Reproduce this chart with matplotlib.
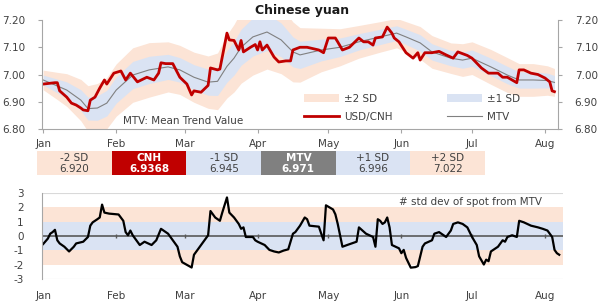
import numpy as np
import matplotlib.pyplot as plt

plt.rcParams['font.family'] = ['DejaVu Sans']
plt.rcParams['axes.unicode_minus'] = False

# month starts (day of year, 2020)
month_days = [0, 31, 60, 91, 121, 152, 182, 213]
month_names = ['Jan', 'Feb', 'Mar', 'Apr', 'May', 'Jun', 'Jul', 'Aug']

# USD/CNH spot
spot_day = [0, 5, 6, 7, 10, 12, 14, 16, 17, 19,
            20, 22, 24, 26, 27, 30, 33, 35, 37, 40,
            44, 47, 49, 50, 52, 55, 58, 61, 63, 64,
            67, 70, 71, 74, 75, 76, 78, 79, 81, 83,
            84, 85, 88, 90, 91, 92, 93, 95, 98, 100,
            103, 105, 106, 109, 112, 117, 119, 121, 124, 125,
            127, 130, 134, 136, 138, 140, 141, 144, 146, 148,
            149, 151, 154, 157, 159, 160, 162, 165, 168, 171,
            174, 176, 180, 182, 186, 189, 193, 195, 197, 201,
            202, 204, 207, 210, 213, 215, 216, 217]
spot = [6.965, 6.97, 6.97, 6.94, 6.917, 6.895, 6.888, 6.877, 6.87, 6.867,
        6.906, 6.917, 6.95, 6.98, 6.965, 7.005, 7.013, 6.98, 7.005, 6.973,
        6.99, 6.98, 7.005, 7.043, 7.04, 7.04, 6.99, 6.965, 6.925, 6.94,
        6.935, 6.96, 7.024, 7.017, 7.02, 7.064, 7.152, 7.127, 7.125, 7.09,
        7.125, 7.083, 7.10, 7.11, 7.09, 7.12, 7.09, 7.108, 7.064, 7.046,
        7.05, 7.05, 7.09, 7.10, 7.10, 7.09, 7.08, 7.134, 7.134, 7.12,
        7.09, 7.10, 7.134, 7.12, 7.12, 7.108, 7.134, 7.138, 7.174, 7.152,
        7.134, 7.12, 7.08, 7.06, 7.08, 7.053, 7.08, 7.08, 7.085, 7.072,
        7.06, 7.083, 7.07, 7.06, 7.024, 7.005, 7.005, 6.99, 6.99, 6.97,
        7.017, 7.017, 7.005, 7.0, 6.987, 6.973, 6.94, 6.937]

# mean trend value and one standard deviation
mtv_day = [0, 6, 10, 16, 19, 23, 27, 31, 38, 45,
           53, 58, 64, 70, 74, 78, 81, 84, 89, 95,
           101, 106, 109, 118, 126, 134, 143, 150, 154, 160,
           165, 173, 178, 182, 190, 197, 202, 208, 214, 217]
mtv = [6.98, 6.958, 6.943, 6.906, 6.875, 6.877, 6.895, 6.943, 6.998, 7.017,
       7.028, 7.017, 6.99, 6.972, 6.975, 7.03, 7.06, 7.10, 7.138, 7.156,
       7.127, 7.083, 7.072, 7.09, 7.10, 7.12, 7.138, 7.152, 7.138, 7.116,
       7.083, 7.06, 7.053, 7.06, 7.028, 6.998, 6.98, 6.98, 6.978, 6.971]
sd = [0.018, 0.025, 0.03, 0.038, 0.042, 0.045, 0.047, 0.048, 0.05, 0.05,
      0.046, 0.045, 0.046, 0.048, 0.052, 0.058, 0.062, 0.066, 0.07, 0.068,
      0.062, 0.055, 0.05, 0.04, 0.034, 0.03, 0.028, 0.027, 0.028, 0.03,
      0.03, 0.028, 0.03, 0.03, 0.032, 0.032, 0.03, 0.03, 0.027, 0.0255]

# number of std devs of spot from MTV
z_day = [0, 2, 3, 4, 5, 6, 7, 9, 11, 13,
         14, 17, 19, 20, 21, 23, 24, 25, 26, 28,
         32, 34, 35, 36, 37, 38, 41, 43, 46, 48,
         50, 53, 55, 57, 58, 59, 63, 64, 66, 68,
         70, 71, 73, 75, 76, 78, 79, 81, 83, 84,
         85, 86, 89, 90, 91, 94, 96, 98, 100, 102,
         104, 106, 107, 109, 111, 112, 113, 117, 118, 119,
         120, 123, 124, 125, 127, 129, 133, 134, 137, 140,
         141, 142, 143, 144, 145, 146, 147, 148, 151, 152,
         153, 154, 156, 158, 159, 161, 162, 165, 166, 168,
         171, 173, 174, 176, 178, 180, 181, 182, 184, 185,
         187, 188, 189, 190, 193, 194, 195, 196, 197, 199,
         201, 202, 204, 207, 210, 212, 214, 216, 217, 218, 219]
z = [-0.56, -0.18, 0.16, 0.27, 0.43, -0.3, -0.52, -0.75, -1.08, -0.75,
     -0.52, -0.4, -0.07, 0.72, 0.95, 1.17, 1.29, 2.19, 1.63, 1.56,
     1.5, 1.06, 0.27, 0.05, 0.38, 0.05, -0.63, -0.4, -0.63, -0.3,
     0.5, 0.16, -0.3, -0.75, -1.42, -1.83, -2.2, -1.31, -0.86, -0.4,
     0.05, 1.74, 1.29, 1.06, 1.63, 2.69, 1.63, 1.29, 0.84, 0.5,
     0.6, -0.07, -0.07, -0.3, -0.4, -0.63, -0.97, -1.08, -1.15, -1.02,
     -0.93, 0.16, 0.27, 0.72, 1.29, 1.17, 0.72, 0.65, 0.16, -0.3,
     2.14, 1.85, 1.51, 0.84, -0.75, -0.63, -0.4, 0.6, 0.16, -0.07,
     -0.75, 1.17, 1.06, 0.84, 0.95, 1.29, 0.6, -0.63, -0.86, -1.2,
     -0.97, -1.53, -2.21, -2.17, -2.1, -0.75, -0.52, -0.3, 0.16, 0.27,
     -0.07, 0.38, 0.84, 0.95, 0.84, 0.6, 0.27, -0.07, -0.63, -1.42,
     -1.99, -1.65, -1.76, -1.08, -0.75, -0.52, -0.3, -0.4, -0.07, 0.05,
     -0.07, 1.06, 0.95, 0.72, 0.6, 0.5, 0.38, -0.07, -0.97, -1.2, -1.31]

# summary table
table_heads = ['-2 SD', 'CNH', '-1 SD', 'MTV', '+1 SD', '+2 SD']
table_vals = ['6.920', '6.9368', '6.945', '6.971', '6.996', '7.022']

PEACH = '#fce4d6'
BLUE = '#dae3f3'
RED = '#c00000'
GRAY = '#808080'
AXC = '#a6a6a6'
TXT = '#404040'

fig = plt.figure(figsize=(6.05, 3.02), dpi=100)

# ---- top chart
ax = fig.add_axes([0.0694, 0.5728, 0.8529, 0.3609])
m = np.array(mtv)
s = np.array(sd)
ax.fill_between(mtv_day, m - 2 * s, m + 2 * s, color=PEACH, lw=0, label='±2 SD')
ax.fill_between(mtv_day, m - s, m + s, color=BLUE, lw=0, label='±1 SD')
ax.plot(mtv_day, mtv, color=GRAY, lw=0.8, label='MTV')
ax.plot(spot_day, spot, color=RED, lw=2, label='USD/CNH')
ax.set_xlim(-0.5, 218.5)
ax.set_ylim(6.80, 7.20)
ax.set_yticks([6.80, 6.90, 7.00, 7.10, 7.20])
ax.yaxis.set_major_formatter(plt.FormatStrFormatter('%.2f'))
ax.set_xticks(month_days)
ax.set_xticklabels(month_names)
ax.tick_params(axis='both', labelsize=7.5, colors=TXT, length=3, color=AXC)
ax.tick_params(axis='y', pad=9, right=True, labelright=True)
ax.tick_params(axis='x', pad=4)
ax.spines['top'].set_visible(False)
for sp in ['left', 'right', 'bottom']:
    ax.spines[sp].set_color(AXC)

h, l = ax.get_legend_handles_labels()
order = [0, 3, 1, 2]
ax.legend([h[i] for i in order], [l[i] for i in order], ncol=2, loc='lower left',
          bbox_to_anchor=(0.5, 0.03), frameon=False, fontsize=7.5, handlelength=3.3,
          columnspacing=5.3, labelcolor=TXT, borderaxespad=0, handletextpad=0.5,
          labelspacing=0.75)
ax.text(0.157, 0.07, 'MTV: Mean Trend Value', transform=ax.transAxes, fontsize=7.5,
        color=TXT, va='center')
fig.text(0.5, 0.965, 'Chinese yuan', ha='center', va='center', fontsize=9,
         fontweight='bold', color='#1a1a1a')

# ---- table row
tax = fig.add_axes([0.0612, 0.4205, 0.7405, 0.0795])
cell_colors = [PEACH, RED, BLUE, GRAY, BLUE, PEACH]
tax.bar(range(6), 1, width=1, color=cell_colors, align='edge')
for i, (hd, v) in enumerate(zip(table_heads, table_vals)):
    dark = cell_colors[i] in (RED, GRAY)
    c = 'white' if dark else TXT
    w = 'bold' if dark else 'normal'
    tax.text(i + 0.5, 0.72, hd, ha='center', va='center', fontsize=7.5, color=c, fontweight=w)
    tax.text(i + 0.5, 0.27, v, ha='center', va='center', fontsize=7.5, color=c, fontweight=w)
tax.set_xlim(0, 6)
tax.set_ylim(0, 1)
tax.axis('off')

# ---- bottom chart
bx = fig.add_axes([0.0694, 0.0762, 0.8612, 0.2848])
bx.axhspan(-2, 2, color=PEACH, lw=0)
bx.axhspan(-1, 1, color=BLUE, lw=0)
for yv in [-3, 3]:
    bx.axhline(yv, color='#d9d9d9', lw=0.8)
bx.axhline(0, color='#595959', lw=1.2)
bx.plot(month_days[1:], [0] * 7, ls='none', marker='|', ms=3, color='#595959')
bx.plot(z_day, z, color='black', lw=1.6)
bx.set_xlim(-0.5, 220.6)
bx.set_ylim(-3, 3)
bx.set_yticks(range(-3, 4))
bx.set_xticks(month_days)
bx.set_xticklabels(month_names)
bx.tick_params(axis='both', labelsize=7.5, colors=TXT, length=0, color=AXC)
bx.tick_params(axis='y', pad=13)
bx.tick_params(axis='x', pad=9)
for sp in ['top', 'right', 'bottom']:
    bx.spines[sp].set_visible(False)
bx.spines['left'].set_color(AXC)
bx.text(0.96, 0.89, '# std dev of spot from MTV', transform=bx.transAxes, ha='right',
        va='center', fontsize=7.5, color=TXT)

fig.savefig('out.png', dpi=100)
